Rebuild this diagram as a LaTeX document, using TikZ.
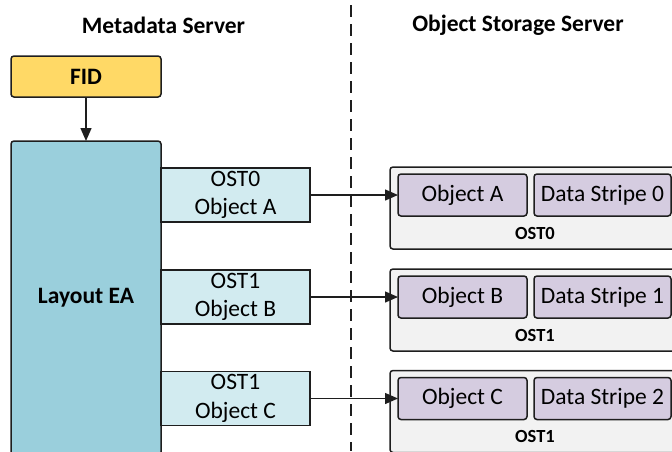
\documentclass[tikz,border=0pt]{standalone}
\usepackage{fontspec}
\setmainfont{Carlito}
\usetikzlibrary{arrows.meta}
\definecolor{fidY}{HTML}{FFD966}
\definecolor{layB}{HTML}{9ACFDC}
\definecolor{ostC}{HTML}{D2EBF0}
\definecolor{objP}{HTML}{D5CCE0}
\definecolor{contG}{HTML}{F2F2F2}
\definecolor{edge}{HTML}{1E1E1E}
\begin{document}
\begin{tikzpicture}[x=1pt,y=-1pt,
  big/.style={font=\fontsize{23.5}{28.5}\selectfont},
  bigb/.style={font=\fontsize{23.5}{28.5}\selectfont\bfseries},
  smallb/.style={font=\fontsize{18.5}{22}\selectfont\bfseries},
  box/.style={draw=edge,line width=1.5pt,inner sep=0pt,outer sep=0pt},
  fidbox/.style={box,fill=fidY,rounded corners=3pt,minimum width=150pt,minimum height=41pt,bigb},
  laybox/.style={box,fill=layB,rounded corners=3pt,minimum width=150pt,minimum height=314pt,bigb},
  ostbox/.style={box,fill=ostC,minimum width=149pt,minimum height=54pt,big,align=center},
  contbox/.style={box,fill=contG,rounded corners=3pt,minimum width=310pt,minimum height=82pt},
  objbox/.style={box,fill=objP,rounded corners=3pt,minimum height=42pt,big},
  conn/.style={draw=edge,line width=1.4pt,-{Triangle[length=13pt,width=11pt]}},
  divider/.style={draw=edge,line width=1.3pt,dash pattern=on 12pt off 7pt}
]
\useasboundingbox (0,0) rectangle (672,451);
\clip (0,0) rectangle (672,451);

\node[bigb] (t1) at (163.5,25) {Metadata Server};
\node[bigb] (t2) at (518,25) {Object Storage Server};

\coordinate (dtop) at (351,5);
\coordinate (dbot) at (351,451);
\draw[divider] (dtop) -- (dbot);

\node[fidbox] (fid) at (86,76.5) {FID};
\node[laybox] (lay) at (86,298) {Layout EA};
\draw[conn] (fid.south) -- (lay.north);

\foreach \i/\yc/\ost/\obj/\ds/\lab in {0/195/OST0/A/0/OST0, 1/297/OST1/B/1/OST1, 2/398.5/OST1/C/2/OST1}{
  \node[ostbox] (e\i) at (235.5,\yc) {\ost\\Object \obj};
  \node[contbox] (c\i) at (545,\yc+13) {};
  \node[objbox,minimum width=129pt] (o\i) at (462.5,\yc) {Object \obj};
  \node[objbox,minimum width=137pt] (d\i) at (602.5,\yc) {Data Stripe \ds};
  \node[smallb] (l\i) at (535,\yc+38) {\lab};
  \draw[conn] (e\i.east) -- (o\i.west);
}
\end{tikzpicture}
\end{document}
